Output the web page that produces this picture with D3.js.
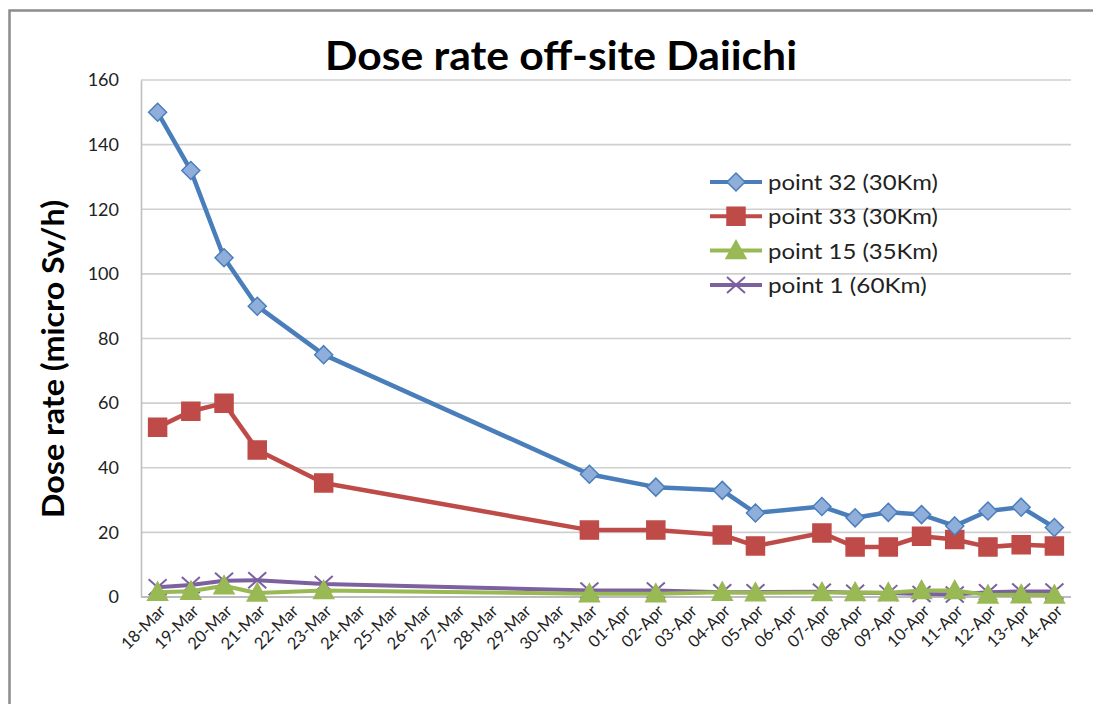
<!DOCTYPE html>
<html>
<head>
<meta charset="utf-8">
<script src="https://cdn.jsdelivr.net/npm/d3@7"></script>
<style>
  body { margin: 0; background: #fff; overflow: hidden; }
  svg { display: block; font-family: Lato, "Open Sans", sans-serif; }
</style>
</head>
<body>
<div></div>
<script>
const dates = ['18-Mar', '19-Mar', '20-Mar', '21-Mar', '22-Mar', '23-Mar', '24-Mar', '25-Mar', '26-Mar',
  '27-Mar', '28-Mar', '29-Mar', '30-Mar', '31-Mar', '01-Apr', '02-Apr', '03-Apr', '04-Apr', '05-Apr',
  '06-Apr', '07-Apr', '08-Apr', '09-Apr', '10-Apr', '11-Apr', '12-Apr', '13-Apr', '14-Apr'];

// null = no reading that day (Excel joins across the gaps)
const point32 = [150, 132, 105, 90, null, 75, null, null, null, null, null, null, null, 38, null, 34, null,
  33, 26, null, 28, 24.5, 26.2, 25.5, 22, 26.6, 27.8, 21.5];
const point33 = [52.5, 57.5, 60, 45.5, null, 35.3, null, null, null, null, null, null, null, 20.7, null, 20.7,
  null, 19.2, 15.8, null, 19.8, 15.5, 15.5, 18.8, 17.8, 15.5, 16.2, 15.8];
const point15 = [1.5, 1.8, 3.5, 1.2, null, 2, null, null, null, null, null, null, null, 1, null, 1, null,
  1.5, 1.3, null, 1.4, 1.4, 1.3, 2, 2, 0.6, 0.7, 0.6];
const point1 = [3, 3.7, 5, 5.2, null, 4, null, null, null, null, null, null, null, 2, null, 2, null,
  1.5, 1.5, null, 1.6, 1.3, 1.2, 0.9, 0.8, 1.5, 1.7, 1.7];

const yTicks = [0, 20, 40, 60, 80, 100, 120, 140, 160];

const series = [
  { name: 'point 32 (30Km)', values: point32, line: '#4A7EBB', fill: '#8FAFDA', marker: 'diamond' },
  { name: 'point 33 (30Km)', values: point33, line: '#BE4B48', fill: '#BE4B48', marker: 'square' },
  { name: 'point 15 (35Km)', values: point15, line: '#98B954', fill: '#98B954', marker: 'triangle' },
  { name: 'point 1 (60Km)', values: point1, line: '#7D60A0', fill: 'none', marker: 'cross' }
];

const w = 1093;
const h = 704;
const plot = { left: 141, right: 1071, top: 80, bottom: 597 };

const svg = d3.select('div').append('svg').attr('width', w).attr('height', h);

// chart frame: only the left and top edges fall inside the picture
svg.append('path')
  .attr('d', `M9.5,${h}V10.5H${w}`)
  .attr('fill', 'none').attr('stroke', '#8C8C8C').attr('stroke-width', 2.5);

const x = d3.scaleBand().domain(dates).range([plot.left, plot.right]);
const y = d3.scaleLinear().domain([0, 160]).range([plot.bottom, plot.top]);

// gridlines
svg.append('g')
  .selectAll('line')
  .data(yTicks)
  .enter()
  .append('line')
  .attr('x1', plot.left).attr('x2', plot.right)
  .attr('y1', (d) => y(d)).attr('y2', (d) => y(d))
  .attr('stroke', (d) => (d === 0 ? '#A6A6A6' : '#CFCFCF'))
  .attr('stroke-width', 1.6);

// y axis
const yAxis = d3.axisLeft(y).tickValues(yTicks).tickSize(0).tickPadding(22);
svg.append('g')
  .attr('transform', `translate(${plot.left}, 0)`)
  .call(yAxis)
  .call((g) => g.select('.domain').attr('stroke', '#BFBFBF').attr('stroke-width', 1.6))
  .selectAll('text')
  .attr('font-size', 18)
  .attr('fill', '#222')
  .attr('font-family', 'Lato, sans-serif');

// x axis
const xAxis = d3.axisBottom(x).tickSize(0).tickPadding(0);
svg.append('g')
  .attr('transform', `translate(0, ${plot.bottom})`)
  .call(xAxis)
  .call((g) => g.select('.domain').remove())
  .selectAll('text')
  .attr('font-size', 16.5)
  .attr('fill', '#222')
  .attr('font-family', 'Lato, sans-serif')
  .attr('text-anchor', 'end')
  .attr('dy', 0)
  .attr('transform', 'translate(9, 15) rotate(-45)');

// lines
const line = d3.line()
  .x((d) => x(d.date) + x.bandwidth() / 2)
  .y((d) => y(d.v));

function points(s) {
  return dates.map((date, i) => ({ date, v: s.values[i] })).filter((d) => d.v !== null);
}

function markerPath(type) {
  if (type === 'diamond') return 'M0,-9L9,0L0,9L-9,0Z';
  if (type === 'square') return 'M-9,-9H9V9H-9Z';
  if (type === 'triangle') return 'M0,-10L10,8H-10Z';
  return 'M-9,-8L9,8M-9,8L9,-8';
}

function drawMarker(g, s) {
  g.append('path')
    .attr('d', markerPath(s.marker))
    .attr('fill', s.fill)
    .attr('stroke', s.line)
    .attr('stroke-width', s.marker === 'cross' ? 2 : 1.5);
}

series.slice().reverse().forEach((s) => {
  const pts = points(s);
  svg.append('path')
    .datum(pts)
    .attr('d', line)
    .attr('fill', 'none')
    .attr('stroke', s.line)
    .attr('stroke-width', s.marker === 'diamond' || s.marker === 'square' ? 4.5 : 4)
    .attr('stroke-linejoin', 'round');
  svg.append('g')
    .selectAll('g')
    .data(pts)
    .enter()
    .append('g')
    .attr('transform', (d) => `translate(${x(d.date) + x.bandwidth() / 2}, ${y(d.v)})`)
    .each(function () { drawMarker(d3.select(this), s); });
});

// title
svg.append('text')
  .attr('x', 325).attr('y', 70)
  .attr('font-size', 40)
  .attr('font-weight', 'bold')
  .attr('fill', '#000')
  .attr('textLength', 472)
  .attr('lengthAdjust', 'spacingAndGlyphs')
  .text('Dose rate off-site Daiichi');

// y title
svg.append('text')
  .attr('transform', 'translate(64, 518) rotate(-90)')
  .attr('font-size', 30)
  .attr('font-weight', 'bold')
  .attr('fill', '#000')
  .attr('textLength', 318)
  .attr('lengthAdjust', 'spacingAndGlyphs')
  .text('Dose rate (micro Sv/h)');

// legend
const legend = svg.append('g').attr('transform', 'translate(710, 182)');
series.forEach((s, i) => {
  const row = legend.append('g').attr('transform', `translate(0, ${i * 34.3})`);
  row.append('line')
    .attr('x1', 0).attr('x2', 52)
    .attr('stroke', s.line).attr('stroke-width', 4);
  const m = row.append('g').attr('transform', 'translate(26, 0)');
  drawMarker(m, s);
  row.append('text')
    .attr('x', 58).attr('y', 8)
    .attr('font-size', 21.5)
    .attr('fill', '#222')
    .attr('textLength', (s.name.length / 15) * 170)
    .attr('lengthAdjust', 'spacingAndGlyphs')
    .text(s.name);
});
</script>
</body>
</html>
